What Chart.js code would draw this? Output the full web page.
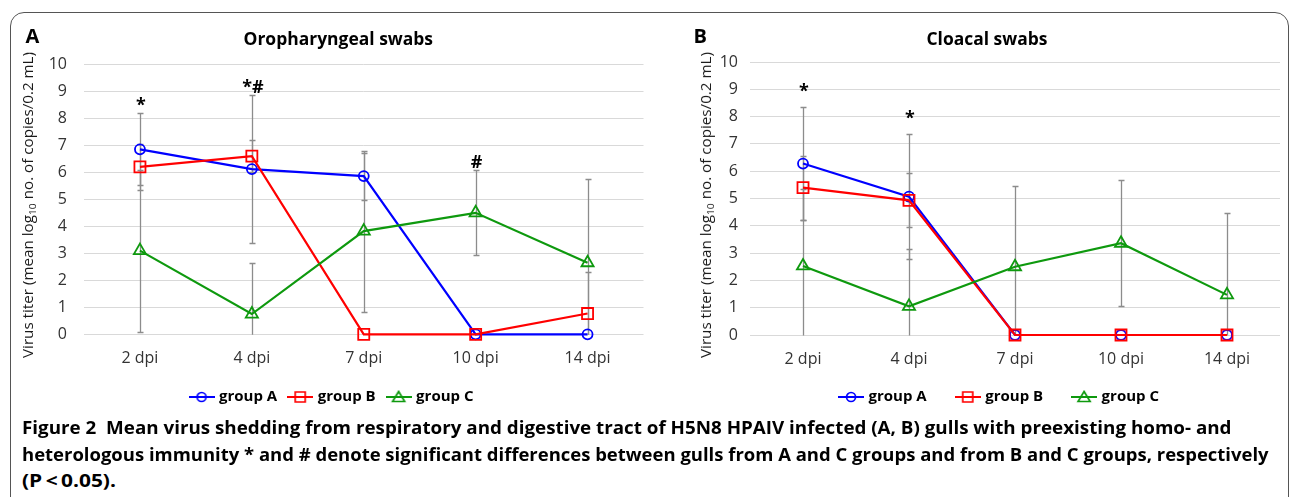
<!DOCTYPE html>
<html>
<head>
<meta charset="utf-8">
<script src="https://cdn.jsdelivr.net/npm/chart.js@4.4.1/dist/chart.umd.min.js"></script>
<style>
html,body{margin:0;padding:0;background:#fff;}
body{width:1292px;height:497px;overflow:hidden;position:relative;font-family:"Open Sans",sans-serif;}
#frame{position:absolute;left:10px;top:12px;width:1279px;height:560px;border:1.5px solid #555;border-radius:14px;box-sizing:border-box;}
.t{position:absolute;white-space:nowrap;left:0;top:0;}
.panel{font-weight:700;font-size:20px;line-height:24px;color:#000;}
.title{font-weight:700;font-size:17px;line-height:22px;color:#000;}
.ytitle{font-size:14px;line-height:20px;color:#1a1a1a;}
.ytitle sub{font-size:9.5px;vertical-align:-3px;line-height:0;}
.cap{font-weight:700;font-size:18px;line-height:22px;color:#000;}
.cap b{font-weight:700;}
canvas{position:absolute;}
</style>
</head>
<body>
<div id="frame"></div>
<canvas id="oro" width="650" height="406" style="left:12px;top:14px;"></canvas>
<canvas id="clo" width="622" height="423" style="left:668px;top:14px;"></canvas>

<div class="t panel" id="pA">A</div>
<div class="t panel" id="pB">B</div>
<div class="t title" id="tA">Oropharyngeal swabs</div>
<div class="t title" id="tB">Cloacal swabs</div>
<div class="t ytitle" id="yA">Virus titer (mean log<sub>10</sub> no. of copies/0.2 mL)</div>
<div class="t ytitle" id="yB">Virus titer (mean log<sub>10</sub> no. of copies/0.2 mL)</div>
<div class="t cap" id="c1"><b>Figure 2</b>&nbsp;&nbsp;Mean virus shedding from respiratory and digestive tract of H5N8 HPAIV infected (A, B) gulls with preexisting homo- and</div>
<div class="t cap" id="c2">heterologous immunity * and # denote significant differences between gulls from A and C groups and from B and C groups, respectively</div>
<div class="t cap" id="c3">(P&thinsp;&lt;&thinsp;0.05).</div>

<script>
// ---------- data ----------
const categories = ['2 dpi', '4 dpi', '7 dpi', '10 dpi', '14 dpi'];
const seriesNames = ['group A', 'group B', 'group C'];

// Oropharyngeal swabs (panel A)
const oroA = [6.85, 6.12, 5.86, 0, 0];
const oroB = [6.2, 6.6, 0, 0, 0.77];
const oroC = [3.1, 0.75, 3.82, 4.5, 2.65];
const oroErrA = [1.33, 2.74, 0.87, 0, 0];
const oroErrB = [0.85, 0.6, 0, 0, 1.54];
const oroErrC = [3.0, 1.88, 2.98, 1.57, 3.1];
const oroSig = ['*', '*#', '', '#', ''];

// Cloacal swabs (panel B)
const cloA = [6.28, 5.07, 0, 0, 0];
const cloB = [5.4, 4.93, 0, 0, 0];
const cloC = [2.53, 1.05, 2.5, 3.36, 1.47];
const cloErrA = [2.07, 2.29, 0, 0, 0];
const cloErrB = [1.17, 0.99, 0, 0, 0];
const cloErrC = [2.8, 2.1, 2.97, 2.3, 3.0];
const cloSig = ['*', '*', '', '', ''];

const yMin = 0, yMax = 10, yStep = 1;

// ---------- styles ----------
const colors = ['#0000FF', '#FF0000', '#0E990E'];
const styles = ['circle', 'rect', 'triangle'];
const radii = [5, 7.8, 7];

Chart.defaults.font.family = "'Open Sans', sans-serif";

function legendIcon(color, style) {
  const c = document.createElement('canvas');
  c.width = 26; c.height = 14;
  const g = c.getContext('2d');
  g.strokeStyle = color; g.lineWidth = 2;
  g.beginPath(); g.moveTo(0, 7); g.lineTo(26, 7); g.stroke();
  g.lineWidth = 1.7;
  g.beginPath();
  if (style === 'circle') g.arc(13, 7, 4.5, 0, Math.PI * 2);
  else if (style === 'rect') g.rect(8, 2, 10, 10);
  else { g.moveTo(13, 1.5); g.lineTo(19, 11.5); g.lineTo(7, 11.5); g.closePath(); }
  g.stroke();
  return c;
}

const errorBars = {
  id: 'errorBars',
  beforeDatasetsDraw(chart, args, opts) {
    const {ctx, chartArea, scales: {x, y}} = chart;
    ctx.save();
    ctx.beginPath();
    ctx.rect(chartArea.left, chartArea.top - 20, chartArea.width, chartArea.height + 20.5);
    ctx.clip();
    ctx.strokeStyle = opts.color;
    ctx.lineWidth = opts.width;
    chart.data.datasets.forEach(ds => {
      ds.data.forEach((v, i) => {
        const e = ds.errors[i];
        if (!e) return;
        const px = Math.round(x.getPixelForValue(i)) + 0.5;
        const yt = Math.round(y.getPixelForValue(v + e)) + 0.5;
        const yb = Math.round(y.getPixelForValue(v - e)) + 0.5;
        ctx.beginPath();
        ctx.moveTo(px, yt); ctx.lineTo(px, yb);
        ctx.moveTo(px - opts.cap, yt); ctx.lineTo(px + opts.cap, yt);
        ctx.moveTo(px - opts.cap, yb); ctx.lineTo(px + opts.cap, yb);
        ctx.stroke();
      });
    });
    ctx.restore();
  }
};

const sigMarks = {
  id: 'sigMarks',
  afterDatasetsDraw(chart, args, opts) {
    const {ctx, scales: {x, y}} = chart;
    ctx.save();
    ctx.font = opts.font;
    ctx.fillStyle = '#000';
    ctx.textAlign = 'center';
    ctx.textBaseline = 'alphabetic';
    opts.labels.forEach((t, i) => {
      if (!t) return;
      let top = -Infinity;
      chart.data.datasets.forEach(ds => { top = Math.max(top, ds.data[i] + (ds.errors[i] || 0)); });
      ctx.fillText(t, x.getPixelForValue(i) + 1, y.getPixelForValue(top) - opts.offset);
    });
    ctx.restore();
  }
};

// moves the legend box vertically after layout (keeps x-axis labels unclipped)
const legendShift = {
  id: 'legendShift',
  afterLayout(chart, args, opts) {
    if (chart.legend && opts.dy) {
      chart.legend.top += opts.dy;
      chart.legend.bottom += opts.dy;
    }
  }
};

function makeChart(id, vals, errs, sig, lay) {
  const datasets = vals.map((d, k) => ({
    label: seriesNames[k],
    data: d,
    errors: errs[k],
    borderColor: colors[k],
    borderWidth: 2.2,
    pointStyle: styles[k],
    pointRadius: radii[k],
    pointBorderWidth: 1.8,
    pointBorderColor: colors[k],
    pointBackgroundColor: 'rgba(0,0,0,0)',
    tension: 0,
    clip: false,
    order: 3 - k
  }));
  return new Chart(document.getElementById(id), {
    type: 'line',
    data: {labels: categories, datasets},
    plugins: [errorBars, sigMarks, legendShift],
    options: {
      responsive: false,
      animation: false,
      devicePixelRatio: 1,
      layout: {padding: lay.padding},
      scales: {
        x: {
          offset: true,
          grid: {display: false, drawTicks: false},
          border: {display: false},
          ticks: {padding: 15, color: '#333', font: {size: 16}},
          afterFit(s) { s.height = lay.xH; }
        },
        y: {
          min: yMin, max: yMax,
          grid: {color: '#D9D9D9', lineWidth: 1, drawTicks: false},
          border: {display: false},
          ticks: {stepSize: yStep, padding: lay.yPad, color: '#333', font: {size: 16}},
          afterFit(s) { s.width = lay.yW; }
        }
      },
      plugins: {
        tooltip: {enabled: false},
        title: {display: false},
        legend: {
          position: 'bottom',
          labels: {
            usePointStyle: true,
            pointStyleWidth: 20,
            padding: lay.legPad,
            color: '#000',
            font: {size: 15, weight: 'bold'},
            generateLabels(chart) {
              return chart.data.datasets.map((ds, i) => ({
                text: ds.label,
                pointStyle: legendIcon(colors[i], styles[i]),
                fontColor: '#000',
                fillStyle: 'rgba(0,0,0,0)',
                strokeStyle: 'rgba(0,0,0,0)',
                lineWidth: 0,
                hidden: false,
                datasetIndex: i
              }));
            }
          }
        },
        legendShift: {dy: lay.legDy},
        errorBars: {color: '#8C8C8C', width: 1.3, cap: 3},
        sigMarks: {labels: sig, font: 'bold 18px "Open Sans"', offset: lay.sigOff}
      }
    }
  });
}

function place(id, cx, cy, target, rot) {
  const el = document.getElementById(id);
  const w = el.offsetWidth, h = el.offsetHeight;
  const s = target ? target / w : 1;
  el.style.transformOrigin = '50% 50%';
  el.style.left = (cx - w / 2) + 'px';
  el.style.top = (cy - h / 2) + 'px';
  el.style.transform = (rot ? 'rotate(' + rot + 'deg) ' : '') + 'scaleX(' + s + ')';
}
function placeLeft(id, left, cy, target) {
  const el = document.getElementById(id);
  const w = el.offsetWidth, h = el.offsetHeight;
  el.style.transformOrigin = '0 50%';
  el.style.left = left + 'px';
  el.style.top = (cy - h / 2) + 'px';
  el.style.transform = 'scaleX(' + (target / w) + ')';
}

function build() {
  makeChart('oro', [oroA, oroB, oroC], [oroErrA, oroErrB, oroErrC], oroSig,
    {padding: {left: 9.5, right: 18.5, top: 50.3, bottom: 5.5}, yW: 62.5, yPad: 17, xH: 42.2, legPad: 13, legDy: 0, sigOff: 2});
  makeChart('clo', [cloA, cloB, cloC], [cloErrA, cloErrB, cloErrC], cloSig,
    {padding: {left: 52, right: 10, top: 48, bottom: 6}, yW: 30, yPad: 12, xH: 40, legPad: 31, legDy: -16.5, sigOff: 10});

  place('pA', 32.5, 36, 0, 0);
  place('pB', 700, 36, 0, 0);
  place('tA', 338, 38.5, 190, 0);
  place('tB', 987, 38.5, 121, 0);
  place('yA', 28, 205, 306, -90);
  place('yB', 706, 205, 306, -90);
  placeLeft('c1', 22, 427, 1209);
  placeLeft('c2', 22, 454, 1247);
  placeLeft('c3', 22, 480, 94);
}

if (document.fonts && document.fonts.ready) document.fonts.ready.then(build); else build();
</script>
</body>
</html>
